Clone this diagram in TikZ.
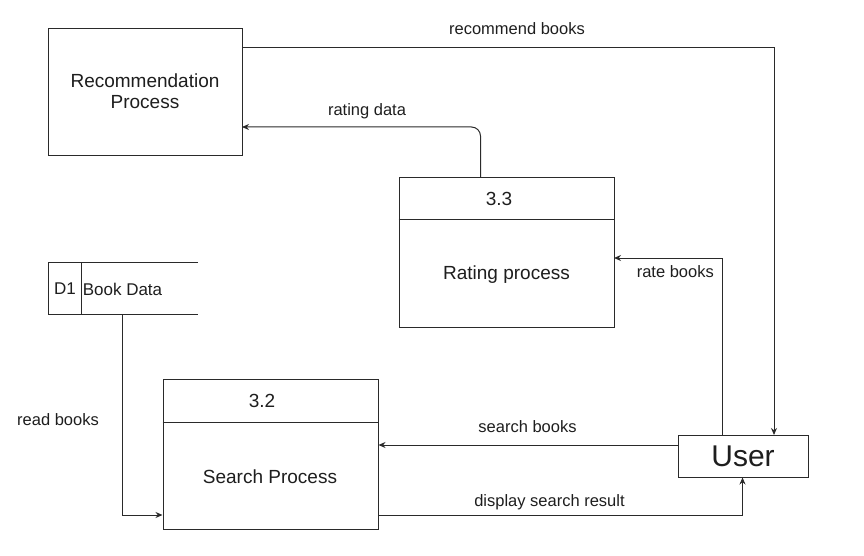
\documentclass[tikz,border=0pt]{standalone}
\usepackage{fontspec}
\setmainfont{Liberation Sans}
\usetikzlibrary{arrows.meta,calc}
\definecolor{ln}{HTML}{2A2A2A}
\definecolor{tx}{HTML}{1E1E1E}
\begin{document}
\begin{tikzpicture}[x=1pt,y=-1pt,
  box/.style={draw=ln,line width=1pt,inner sep=0pt,fill=white},
  title/.style={text=tx,font=\fontsize{19}{21}\selectfont,inner sep=0pt},
  lbl/.style={text=tx,font=\fontsize{16.5}{19}\selectfont,inner sep=0pt},
  flow/.style={draw=ln,line width=1pt,-{Stealth[length=7pt,width=6pt]}}]
\useasboundingbox (0,0) rectangle (864,556);
% boxes
\node[box,minimum width=194,minimum height=127] (rec) at (145,92.5) {};
\node[title,align=center] (rect) at (145,91.5) {Recommendation\\Process};
\node[box,minimum width=215,minimum height=149] (r33) at (506.5,252.5) {};
\draw[ln,line width=1pt] ($(r33.north west)+(0,42)$) coordinate (r33a) -- (r33a -| r33.east);
\node[title] (r33n) at (499,199) {3.3};
\node[title] (r33t) at (506.5,275) {Rating process};
\node[box,minimum width=215,minimum height=150] (s32) at (270.5,454.5) {};
\draw[ln,line width=1pt] ($(s32.north west)+(0,43)$) coordinate (s32a) -- (s32a -| s32.east);
\node[title] (s32n) at (262,401) {3.2};
\node[title] (s32t) at (270,477) {Search Process};
\node[box,minimum width=130,minimum height=42] (user) at (743,456) {};
\node[text=tx,font=\fontsize{30}{32}\selectfont,inner sep=0pt] (usert) at (743,456) {User};
% data store
\coordinate (st1) at (198,262);
\coordinate (st2) at (48,262);
\coordinate (st3) at (48,314);
\coordinate (st4) at (198,314);
\draw[ln,line width=1pt] (st1) -- (st2) -- (st3) -- (st4);
\draw[ln,line width=1pt] (81,262) coordinate (dv1) -- (81,314) coordinate (dv2);
\node[lbl,font=\fontsize{17}{19}\selectfont] (d1) at (65,289) {D1};
\node[lbl,font=\fontsize{17}{19}\selectfont] (bd) at (122.5,289) {Book Data};
\coordinate (bdb) at (122,314);
% connectors
\coordinate (recA) at (242,48);
\coordinate (userA) at (774,435);
\draw[flow] (recA) -| (userA);
\node[lbl] (l1) at (517,29) {recommend books};
\coordinate (r33top) at (480.5,178);
\coordinate (recB) at (242,127);
\draw[flow,rounded corners=9pt] (r33top) |- (recB);
\node[lbl] (l2) at (367,111) {rating data};
\coordinate (userB) at (722.5,435);
\coordinate (r33R) at (614,258);
\draw[flow] (userB) |- (r33R);
\node[lbl,anchor=east] (l3) at (714,272) {rate books};
\draw[flow] (bdb) |- (s32.west |- 0,515);
\node[lbl] (l4) at (58,420) {read books};
\draw[flow] (user.west |- 0,445) -- (s32.east |- 0,445);
\node[lbl] (l5) at (527.5,427) {search books};
\coordinate (s32R) at (378,515.5);
\draw[flow] (s32R) -| (user.south -| 742.5,0);
\node[lbl] (l6) at (549.5,502) {display search result};
\end{tikzpicture}
\end{document}
